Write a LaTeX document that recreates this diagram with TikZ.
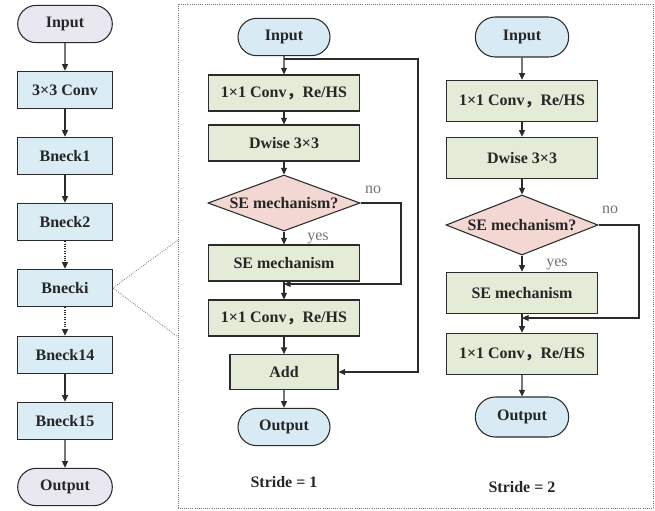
\documentclass[tikz,border=0pt]{standalone}
\usepackage{fontspec}
\setmainfont{Liberation Serif}
\newfontfamily\cjk{Noto Sans CJK SC}
\usetikzlibrary{shapes.geometric,shapes.misc,arrows.meta}

\definecolor{termgrau}{HTML}{E9E7EF}
\definecolor{termblau}{HTML}{D8EAF4}
\definecolor{boxblau}{HTML}{DAECF4}
\definecolor{boxgruen}{HTML}{E4EBD7}
\definecolor{rautenrot}{HTML}{F2D7D3}
\definecolor{linie}{HTML}{2B2B2B}

\begin{document}
\begin{tikzpicture}[x=0.75pt, y=-0.75pt,
    >={Triangle[length=5pt,width=4.5pt]},
    every node/.style={font=\fontsize{12}{14}\selectfont\bfseries, text=black!85},
    pfeil/.style={->, draw=linie, line width=0.8pt},
    term/.style={rounded rectangle, draw=linie, line width=0.8pt, inner sep=0pt},
    termL/.style={term, fill=termgrau, minimum width=71pt, minimum height=28pt},
    termM/.style={term, fill=termblau, minimum width=69pt, minimum height=28pt},
    termR/.style={term, fill=termblau, minimum width=70pt, minimum height=30pt},
    boxL/.style={rectangle, draw=linie, line width=0.8pt, fill=boxblau, minimum width=71pt, minimum height=28pt},
    boxM/.style={rectangle, draw=linie, line width=0.8pt, fill=boxgruen, minimum width=113pt, minimum height=27pt},
    boxR/.style={boxM, minimum height=31pt},
    addbox/.style={boxM, minimum width=81pt, minimum height=26pt},
    raute/.style={diamond, draw=linie, line width=0.8pt, fill=rautenrot, aspect=2.7, inner sep=0pt, minimum width=114pt, minimum height=42pt},
    jn/.style={font=\fontsize{12}{14}\selectfont, text=black!55},
    rahmen/.style={densely dotted, draw=black!55, line width=0.6pt}
  ]
    \useasboundingbox (0,0) rectangle (655,510);

    % Linke Spalte: Gesamtnetz
    \node[termL] (lIn) at (65,24) {Input};
    \node[boxL] (lConv) at (65,90) {3×3 Conv};
    \node[boxL] (lB1) at (65,156) {Bneck1};
    \node[boxL] (lB2) at (65,222) {Bneck2};
    \node[boxL] (lBi) at (65,288) {Bnecki};
    \node[boxL] (lB14) at (65,355) {Bneck14};
    \node[boxL] (lB15) at (65,421) {Bneck15};
    \node[termL] (lOut) at (65,487) {Output};
    \draw[pfeil] (lIn) -- (lConv);
    \draw[pfeil] (lConv) -- (lB1);
    \draw[pfeil] (lB1) -- (lB2);
    \draw[pfeil, densely dotted] (lB2) -- (lBi);
    \draw[pfeil, densely dotted] (lBi) -- (lB14);
    \draw[pfeil] (lB14) -- (lB15);
    \draw[pfeil] (lB15) -- (lOut);

    % Rahmen um die Bneck-Blöcke
    \draw[rahmen] (178,4) rectangle (653,508);
    \coordinate (rO) at (178,240);
    \coordinate (rU) at (178,337);
    \draw[rahmen] (rO) -- (lBi.east) -- (rU);

    % Mitte: Stride = 1
    \node[termM] (mIn) at (284,37) {Input};
    \node[boxM] (mC1) at (284,93) {1×1 Conv{\cjk ，}Re/HS};
    \node[boxM] (mDw) at (284,143) {Dwise 3×3};
    \node[raute] (mSE) at (284,203) {SE mechanism?};
    \node[boxM] (mSEb) at (284,263) {SE mechanism};
    \node[boxM] (mC2) at (284,318) {1×1 Conv{\cjk ，}Re/HS};
    \node[addbox] (mAdd) at (284,372) {Add};
    \node[termM] (mOut) at (284,427) {Output};
    \node (mStr) at (284,482) {Stride = 1};
    \node[jn] (mNo) at (373,190) {no};
    \node[jn] (mYes) at (318,238) {yes};
    \coordinate (mAst) at (284,59);
    \coordinate (mRechts) at (418,59);
    \coordinate (mNein) at (401,284);
    \draw[pfeil] (mIn) -- (mC1);
    \draw[pfeil] (mC1) -- (mDw);
    \draw[pfeil] (mDw) -- (mSE);
    \draw[pfeil] (mSE) -- (mSEb);
    \draw[pfeil] (mSEb) -- (mC2);
    \draw[pfeil] (mC2) -- (mAdd);
    \draw[pfeil] (mAdd) -- (mOut);
    \draw[pfeil] (mAst) -- (mRechts) |- (mAdd.east);
    \draw[pfeil] (mSE.east) -| (mNein) -- (mNein -| mSEb.south);

    % Rechts: Stride = 2
    \node[termR] (rIn) at (522,37) {Input};
    \node[boxR] (rC1) at (522,101) {1×1 Conv{\cjk ，}Re/HS};
    \node[boxR] (rDw) at (522,158) {Dwise 3×3};
    \node[raute, minimum height=45pt] (rSE) at (522,225) {SE mechanism?};
    \node[boxR] (rSEb) at (522,293) {SE mechanism};
    \node[boxR] (rC2) at (522,354) {1×1 Conv{\cjk ，}Re/HS};
    \node[termR] (rOut) at (522,417) {Output};
    \node (rStr) at (522,487) {Stride = 2};
    \node[jn] (rNo) at (610,210) {no};
    \node[jn] (rYes) at (557,264) {yes};
    \coordinate (rNein) at (639,318);
    \draw[pfeil] (rIn) -- (rC1);
    \draw[pfeil] (rC1) -- (rDw);
    \draw[pfeil] (rDw) -- (rSE);
    \draw[pfeil] (rSE) -- (rSEb);
    \draw[pfeil] (rSEb) -- (rC2);
    \draw[pfeil] (rC2) -- (rOut);
    \draw[pfeil] (rSE.east) -| (rNein) -- (rNein -| rSEb.south);
\end{tikzpicture}
\end{document}
